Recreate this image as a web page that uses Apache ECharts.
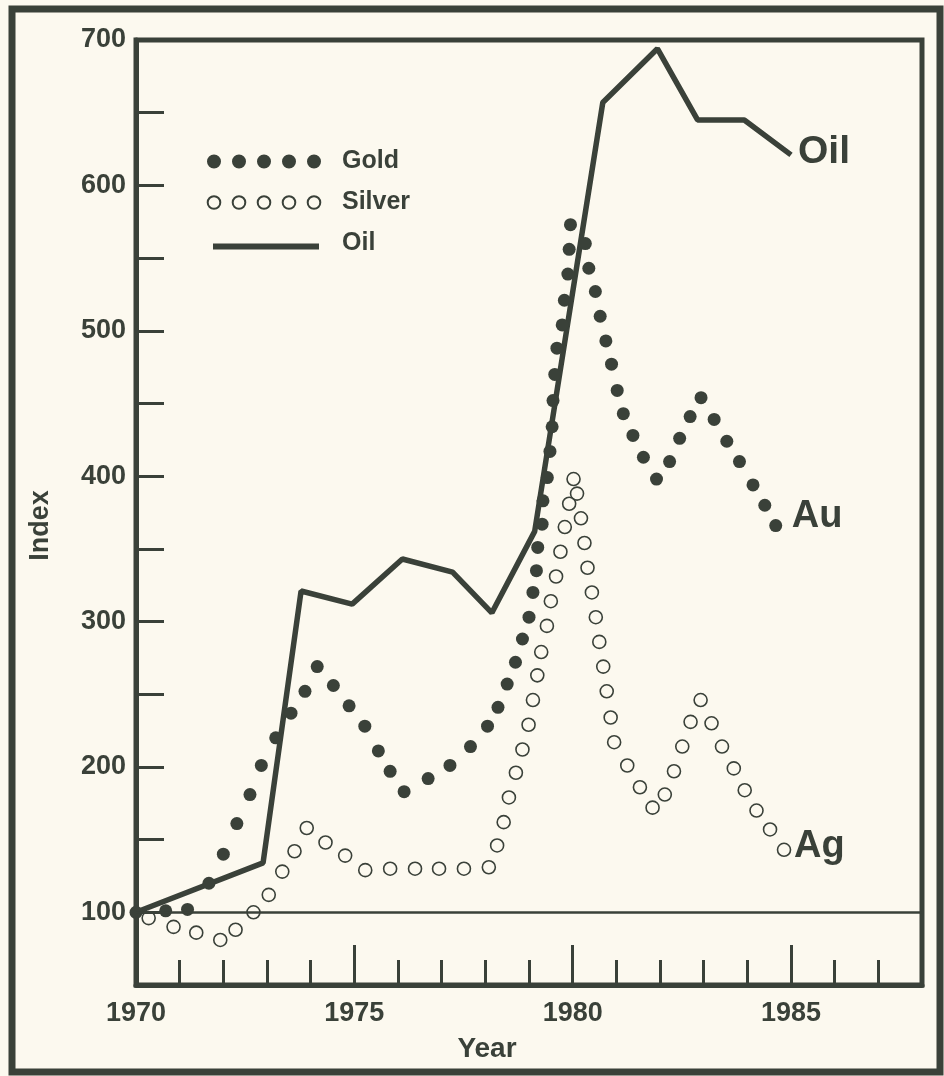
<!DOCTYPE html>
<html>
<head>
<meta charset="utf-8">
<title>Gold, Silver and Oil index</title>
<script src="https://cdn.jsdelivr.net/npm/echarts@6/dist/echarts.min.js"></script>
<style>
  html, body { margin: 0; padding: 0; background: #fcf9ef; }
  #chart { width: 944px; height: 1076px; }
</style>
</head>
<body>
<div id="chart"></div>
<script>
// index values (1970 = 100), as [year, index]
var oilData = [[1970.0, 100], [1972.91, 134], [1973.78, 321], [1974.95, 312], [1976.1, 343],
  [1977.25, 334], [1978.15, 306], [1979.13, 362], [1980.69, 657], [1981.94, 694],
  [1982.86, 645], [1983.93, 645], [1985.0, 621]]

var goldData = [[1970.0, 100], [1970.68, 101], [1971.18, 102], [1971.67, 120], [1972.0, 140],
  [1972.31, 161], [1972.61, 181], [1972.87, 201], [1973.2, 220], [1973.55, 237], [1973.87, 252],
  [1974.15, 269], [1974.52, 256], [1974.88, 242], [1975.24, 228], [1975.55, 211], [1975.82, 197],
  [1976.14, 183], [1976.69, 192], [1977.19, 201], [1977.66, 214], [1978.05, 228], [1978.29, 241],
  [1978.5, 257], [1978.69, 272], [1978.85, 288], [1979.0, 303], [1979.09, 320], [1979.17, 335],
  [1979.2, 351], [1979.3, 367], [1979.32, 383], [1979.42, 399], [1979.48, 417], [1979.53, 434],
  [1979.55, 452], [1979.59, 470], [1979.64, 488], [1979.76, 504], [1979.81, 521], [1979.89, 539],
  [1979.92, 556], [1979.95, 573], [1980.29, 560], [1980.37, 543], [1980.52, 527], [1980.63, 510],
  [1980.76, 493], [1980.89, 477], [1981.02, 459], [1981.16, 443], [1981.38, 428], [1981.62, 413],
  [1981.92, 398], [1982.22, 410], [1982.45, 426], [1982.69, 441], [1982.94, 454], [1983.24, 439],
  [1983.53, 424], [1983.82, 410], [1984.13, 394], [1984.4, 380], [1984.65, 366]]

var silverData = [[1970.29, 96], [1970.86, 90], [1971.38, 86], [1971.93, 81], [1972.28, 88],
  [1972.69, 100], [1973.04, 112], [1973.35, 128], [1973.63, 142], [1973.91, 158], [1974.34, 148],
  [1974.79, 139], [1975.25, 129], [1975.82, 130], [1976.39, 130], [1976.94, 130], [1977.51, 130],
  [1978.08, 131], [1978.27, 146], [1978.42, 162], [1978.54, 179], [1978.7, 196], [1978.85, 212],
  [1978.99, 229], [1979.09, 246], [1979.19, 263], [1979.28, 279], [1979.41, 297], [1979.5, 314],
  [1979.62, 331], [1979.72, 348], [1979.82, 365], [1979.92, 381], [1980.02, 398], [1980.1, 388],
  [1980.19, 371], [1980.27, 354], [1980.34, 337], [1980.44, 320], [1980.53, 303], [1980.61, 286],
  [1980.7, 269], [1980.78, 252], [1980.87, 234], [1980.95, 217], [1981.25, 201], [1981.54, 186],
  [1981.83, 172], [1982.11, 181], [1982.32, 197], [1982.51, 214], [1982.7, 231], [1982.93, 246],
  [1983.18, 230], [1983.42, 214], [1983.69, 199], [1983.94, 184], [1984.21, 170], [1984.52, 157],
  [1984.84, 143]]

var yearLabels = [1970, 1975, 1980, 1985]
var indexLabels = [100, 200, 300, 400, 500, 600, 700]
var baseIndex = 100

var ink = '#3a4139'
var paper = '#fcf9ef'
var font = '"Liberation Sans", Arial, Helvetica, sans-serif'

// legend icons: a row of five dots, padded so the text sits further right
function dotsIcon(r) {
  var p = 'path://M0,0L0,0M130,14L130,14'
  for (var i = 0; i < 5; i++) {
    var cx = 7 + 25 * i
    p += 'M' + (cx - r) + ',7a' + r + ',' + r + ' 0 1,0 ' + (2 * r) + ',0a' + r + ',' + r + ' 0 1,0 ' + (-2 * r) + ',0Z'
  }
  return p
}
var barIcon = 'path://M0,0L0,0M130,14L130,14M6,7h106v6h-106Z'

var chart = echarts.init(document.getElementById('chart'))

chart.setOption({
  animation: false,
  backgroundColor: paper,
  textStyle: { fontFamily: font, color: ink, fontWeight: 'bold' },
  graphic: [{
    type: 'rect',
    shape: { x: 12, y: 9, width: 928, height: 1063 },
    style: { fill: null, stroke: ink, lineWidth: 7 },
    silent: true
  }],
  legend: {
    orient: 'vertical',
    left: 206,
    top: 149,
    padding: 0,
    itemGap: 16,
    itemWidth: 130,
    itemHeight: 14,
    selectedMode: false,
    textStyle: { fontSize: 25, fontWeight: 'bold', color: ink, fontFamily: font },
    data: [
      { name: 'Gold', icon: dotsIcon(7) },
      { name: 'Silver', icon: dotsIcon(6.3) },
      { name: 'Oil', icon: barIcon }
    ]
  },
  grid: [
    { left: 136, top: 40, width: 786, height: 945, show: true, borderColor: ink, borderWidth: 5 },
    { left: 136, top: 40, width: 786, height: 945 }
  ],
  xAxis: [{
    type: 'value',
    min: 1970,
    max: 1988,
    interval: 1,
    name: 'Year',
    nameLocation: 'middle',
    nameGap: 50,
    nameTextStyle: { fontSize: 28, fontWeight: 'bold', color: ink, fontFamily: font, padding: [0, 84, 0, 0] },
    axisLine: { lineStyle: { color: ink, width: 5 } },
    axisTick: { inside: true, length: 25, lineStyle: { color: ink, width: 3 } },
    axisLabel: {
      margin: 15,
      fontSize: 27,
      fontWeight: 'bold',
      color: ink,
      fontFamily: font,
      formatter: function(v) { return yearLabels.indexOf(v) >= 0 ? String(v) : '' }
    },
    splitLine: { show: false }
  }, {
    // longer ticks every five years
    type: 'value',
    gridIndex: 1,
    min: 1970,
    max: 1988,
    interval: 5,
    axisLine: { show: false },
    axisTick: { inside: true, length: 40, lineStyle: { color: ink, width: 3 } },
    axisLabel: { show: false },
    splitLine: { show: false }
  }],
  yAxis: [{
    type: 'value',
    min: 50,
    max: 700,
    interval: 50,
    name: 'Index',
    nameLocation: 'middle',
    nameRotate: 90,
    nameGap: 82,
    nameTextStyle: { fontSize: 27, fontWeight: 'bold', color: ink, fontFamily: font, padding: [0, 26, 0, 0] },
    axisLine: { lineStyle: { color: ink, width: 5 } },
    axisTick: { inside: true, length: 28, lineStyle: { color: ink, width: 3 } },
    axisLabel: {
      margin: 10,
      fontSize: 27,
      fontWeight: 'bold',
      color: ink,
      fontFamily: font,
      formatter: function(v) { return indexLabels.indexOf(v) >= 0 ? String(v) : '' }
    },
    splitLine: { show: false }
  }, {
    type: 'value',
    gridIndex: 1,
    min: 50,
    max: 700,
    show: false
  }],
  series: [
    {
      name: 'Oil',
      type: 'line',
      data: oilData,
      symbol: 'none',
      itemStyle: { color: ink },
      lineStyle: { color: ink, width: 5.5 },
      endLabel: {
        show: true,
        formatter: 'Oil',
        distance: 7,
        offset: [0, -3],
        fontSize: 39,
        fontWeight: 'bold',
        color: ink,
        fontFamily: font
      },
      markLine: {
        silent: true,
        symbol: ['none', 'none'],
        label: { show: false },
        lineStyle: { color: ink, width: 2.5, type: 'solid' },
        data: [{ yAxis: baseIndex }]
      },
      z: 3
    },
    {
      name: 'Gold',
      type: 'line',
      data: goldData,
      symbol: 'circle',
      symbolSize: 13,
      showSymbol: true,
      itemStyle: { color: ink },
      lineStyle: { width: 0, opacity: 0 },
      endLabel: {
        show: true,
        formatter: 'Au',
        distance: 16,
        offset: [0, -9],
        fontSize: 38,
        fontWeight: 'bold',
        color: ink,
        fontFamily: font
      },
      z: 4
    },
    {
      name: 'Silver',
      type: 'line',
      data: silverData,
      symbol: 'circle',
      symbolSize: 13,
      showSymbol: true,
      itemStyle: { color: 'rgba(0,0,0,0)', borderColor: ink, borderWidth: 1.6 },
      lineStyle: { width: 0, opacity: 0 },
      endLabel: {
        show: true,
        formatter: 'Ag',
        distance: 10,
        offset: [0, -3],
        fontSize: 38,
        fontWeight: 'bold',
        color: ink,
        fontFamily: font
      },
      z: 4
    }
  ]
})
</script>
</body>
</html>
